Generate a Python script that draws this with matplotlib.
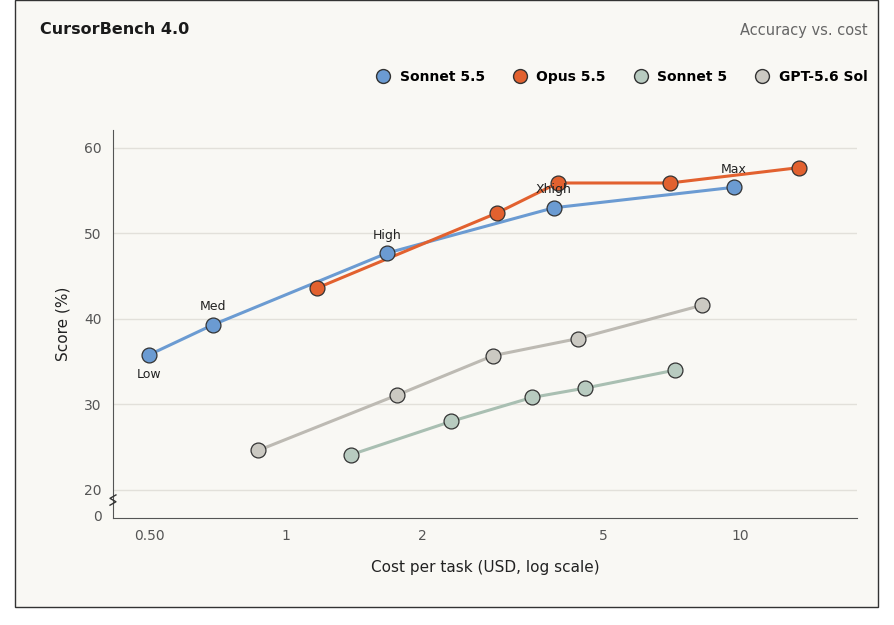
import matplotlib
matplotlib.use("Agg")
import matplotlib.pyplot as plt
from matplotlib.patches import Rectangle
from matplotlib.lines import Line2D

series_names = ["Sonnet 5.5", "Opus 5.5", "Sonnet 5", "GPT-5.6 Sol"]
sonnet55_cost = [0.50, 0.69, 1.67, 3.89, 9.7]
sonnet55_score = [35.8, 39.3, 47.7, 53.0, 55.4]
sonnet55_labels = ["Low", "Med", "High", "Xhigh", "Max"]
opus55_cost = [1.17, 2.92, 3.97, 7.01, 13.5]
opus55_score = [43.6, 52.4, 55.9, 55.9, 57.7]
sonnet5_cost = [1.39, 2.31, 3.48, 4.56, 7.19]
sonnet5_score = [24.1, 28.0, 30.8, 31.9, 34.0]
gpt_cost = [0.868, 1.76, 2.86, 4.40, 8.25]
gpt_score = [24.6, 31.1, 35.7, 37.7, 41.6]
x_ticks = [0.5, 1, 2, 5, 10]
x_tick_labels = ["0.50", "1", "2", "5", "10"]
y_ticks = [20, 30, 40, 50, 60]

bg = "#f9f8f4"
fig = plt.figure(figsize=(8.94, 6.25), dpi=100, facecolor="white")
fig.patches.append(Rectangle((15/894, 18/625), 863/894, 607/625, transform=fig.transFigure,
                             facecolor=bg, edgecolor="#333333", lw=1.0, zorder=-1))
ax = fig.add_axes([113/894, 107/625, 744/894, 388/625])
ax.set_facecolor(bg)
ax.set_xscale("log")
ax.set_xlim(0.416, 18.1)
ax.set_ylim(16.7, 62.1)

colors = ["#6b9bd2", "#e2612f", "#b8cbc0", "#cbc9c2"]
lines = ["#6b9bd2", "#e2612f", "#a9bfb2", "#bdbab3"]
data = [(sonnet55_cost, sonnet55_score), (opus55_cost, opus55_score),
        (sonnet5_cost, sonnet5_score), (gpt_cost, gpt_score)]
for (xs, ys), c, lc in zip(data, colors, lines):
    ax.plot(xs, ys, color=lc, lw=2.2, zorder=3)
    ax.scatter(xs, ys, s=115, color=c, edgecolor="#333333", linewidth=0.9, zorder=4)

for x, y, lab in zip(sonnet55_cost, sonnet55_score, sonnet55_labels):
    dy = -14.5 if lab == "Low" else 13
    ax.annotate(lab, (x, y), xytext=(0, dy), textcoords="offset points",
                ha="center", va="center", fontsize=9, color="#222222", zorder=5)

for t in y_ticks:
    ax.axhline(t, color="#e2e0da", lw=1, zorder=0)
ax.set_yticks(y_ticks + [17.05])
ax.set_yticklabels([str(t) for t in y_ticks] + ["0"])
ax.set_xticks(x_ticks)
ax.set_xticklabels(x_tick_labels)
ax.minorticks_off()
ax.tick_params(colors="#555555", labelsize=10, length=0, pad=8)
for s in ["top", "right"]:
    ax.spines[s].set_visible(False)
for s in ["left", "bottom"]:
    ax.spines[s].set_color("#555555")
ax.plot([0.416*0.985, 0.416*1.015, 0.416*0.985, 0.416*1.015], [18.2, 18.6, 19.0, 19.4],
        color="#333333", lw=1, clip_on=False, zorder=6)
ax.set_xlabel("Cost per task (USD, log scale)", fontsize=11, color="#222222", labelpad=12)
ax.set_ylabel("Score (%)", fontsize=11, color="#222222", labelpad=10)

fig.text(40/894, 1-30/625, "CursorBench 4.0", fontsize=11.5, fontweight="bold", va="center", color="#1a1a1a")
fig.text(868/894, 1-31/625, "Accuracy vs. cost", fontsize=10.5, va="center", ha="right", color="#666666")

handles = [Line2D([], [], marker="o", ls="", markersize=10, markerfacecolor=c,
                  markeredgecolor="#333333") for c in colors]
leg = fig.legend(handles, series_names, loc="center right", bbox_to_anchor=(880/894, 1-77/625),
                 ncol=4, frameon=False, handletextpad=0.2, columnspacing=1.5,
                 prop={"weight": "semibold", "size": 10})
fig.savefig("out.png", dpi=100, facecolor="white")
